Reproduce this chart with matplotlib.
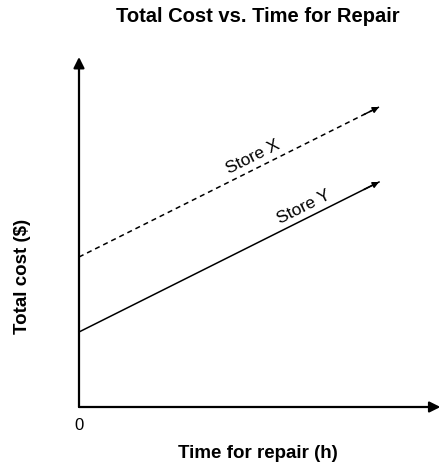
import matplotlib
matplotlib.use("Agg")
import matplotlib.pyplot as plt

plt.rcParams['font.family'] = ['Liberation Sans', 'DejaVu Sans']

# Data (hours, cost units)
hours = [0, 10]
store_x = [6, 12]
store_y = [3, 9]
series_labels = ["Store X", "Store Y"]
title = "Total Cost vs. Time for Repair"
xlabel = "Time for repair (h)"
ylabel = "Total cost ($)"

W, H = 441, 467
fig = plt.figure(figsize=(W / 100, H / 100), dpi=100)
ox, oy = 79, 407
ax = fig.add_axes([ox / W, (H - oy) / H, (W - ox) / W, (oy - 57) / H])
ax.set_xlim(0, (W - ox) / 30)
ax.set_ylim(0, 14)
ax.axis('off')

# axes arrows
ax.annotate('', xy=(ax.get_xlim()[1] - 0.02, 0), xytext=(0, 0),
            arrowprops=dict(arrowstyle='-|>', lw=1.6, color='black', mutation_scale=16,
                            shrinkA=0, shrinkB=0), annotation_clip=False)
ax.annotate('', xy=(0, 14), xytext=(0, 0),
            arrowprops=dict(arrowstyle='-|>', lw=1.6, color='black', mutation_scale=16,
                            shrinkA=0, shrinkB=0), annotation_clip=False)

# Store X (dashed)
ax.plot(hours, store_x, color='black', lw=1.1, linestyle=(0, (3.3, 2.6)), clip_on=False)
ax.annotate('', xy=(hours[1], store_x[1]), xytext=(hours[1] - 0.5, store_x[1] - 0.3),
            arrowprops=dict(arrowstyle='-|>', lw=1.1, color='black', mutation_scale=9,
                            shrinkA=0, shrinkB=0), annotation_clip=False)
# Store Y (solid)
ax.plot(hours, store_y, color='black', lw=1.1, clip_on=False)
ax.annotate('', xy=(hours[1], store_y[1]), xytext=(hours[1] - 0.5, store_y[1] - 0.3),
            arrowprops=dict(arrowstyle='-|>', lw=1.1, color='black', mutation_scale=9,
                            shrinkA=0, shrinkB=0), annotation_clip=False)

# labels along the lines
ax.text(5.8, store_x[0] + 0.6 * 5.8 + 0.5, series_labels[0], rotation=26.5,
        rotation_mode='anchor', ha='center', va='center', fontsize=12.5)
ax.text(7.5, store_y[0] + 0.6 * 7.5 + 0.5, series_labels[1], rotation=26.5,
        rotation_mode='anchor', ha='center', va='center', fontsize=12.5)

# origin label
fig.text(ox / W, 1 - 425 / H, "0", ha='center', va='center', fontsize=12)

fig.text(258 / W, 1 - 16 / H, title, ha='center', va='center', fontsize=14.5, fontweight='bold')
fig.text(258 / W, 1 - 453 / H, xlabel, ha='center', va='center', fontsize=13.5, fontweight='bold')
fig.text(23 / W, 1 - 276 / H, ylabel, ha='center', va='center', fontsize=13.5,
         fontweight='bold', rotation=90)

fig.savefig("out.png", dpi=100)
